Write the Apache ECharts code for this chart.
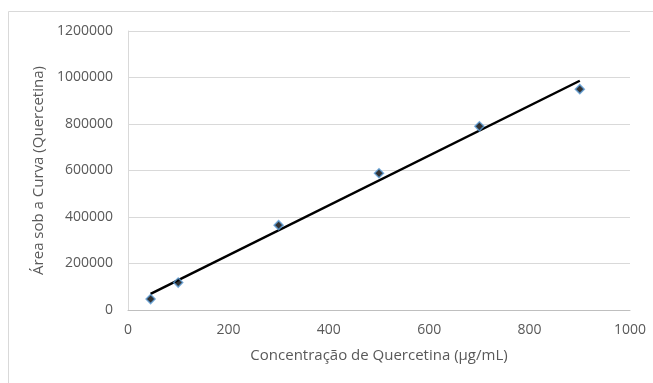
<!DOCTYPE html>
<html>
<head>
<meta charset="utf-8">
<script src="https://cdn.jsdelivr.net/npm/echarts@6/dist/echarts.min.js"></script>
<style>
  html, body { margin: 0; padding: 0; background: #fff; }
  #chart { width: 653px; height: 383px; }
</style>
</head>
<body>
<div id="chart"></div>
<script>
// Calibration points: concentration (µg/mL) vs. peak area
const concentracao = [45, 100, 300, 500, 700, 900];
const area = [47000, 118000, 365000, 588000, 790000, 950000];

// Linear trend line endpoints
const trendX = [45, 900];
const trendY = [69000, 986000];

const xTicks = { min: 0, max: 1000, interval: 200 };
const yTicks = { min: 0, max: 1200000, interval: 200000 };

const labelColor = '#595959';
const fontFamily = '"Open Sans", "Noto Sans", sans-serif';
const plain = v => String(v);

const chart = echarts.init(document.getElementById('chart'), null, { renderer: 'canvas' });

chart.setOption({
  backgroundColor: '#ffffff',
  animation: false,
  graphic: [{
    type: 'rect',
    shape: { x: 8.5, y: 11.5, width: 700, height: 400 },
    style: { fill: 'none', stroke: '#d9d9d9', lineWidth: 1 },
    silent: true,
    z: -10
  }],
  grid: { left: 128, right: 23, top: 31, bottom: 73, containLabel: false },
  xAxis: {
    type: 'value',
    min: xTicks.min, max: xTicks.max, interval: xTicks.interval,
    name: 'Concentração de Quercetina (µg/mL)',
    nameLocation: 'middle',
    nameGap: 38,
    nameTextStyle: { color: labelColor, fontSize: 15, fontFamily },
    axisLine: { show: true, lineStyle: { color: '#bfbfbf', width: 1 } },
    axisTick: { show: false },
    splitLine: { show: false },
    axisLabel: { color: labelColor, fontSize: 14, fontFamily, margin: 13, formatter: plain }
  },
  yAxis: {
    type: 'value',
    min: yTicks.min, max: yTicks.max, interval: yTicks.interval,
    name: 'Área sob a Curva (Quercetina)',
    nameLocation: 'middle',
    nameGap: 72,
    nameTextStyle: { color: labelColor, fontSize: 15, fontFamily },
    axisLine: { show: true, lineStyle: { color: '#d9d9d9', width: 1 } },
    axisTick: { show: false },
    splitLine: { show: true, lineStyle: { color: '#d9d9d9', width: 1 } },
    axisLabel: { color: labelColor, fontSize: 14, fontFamily, margin: 15, formatter: plain }
  },
  series: [
    {
      name: 'Tendência',
      type: 'line',
      data: trendX.map((x, i) => [x, trendY[i]]),
      symbol: 'none',
      lineStyle: { color: '#000000', width: 2.5 },
      z: 2
    },
    {
      name: 'Área',
      type: 'scatter',
      data: concentracao.map((x, i) => [x, area[i]]),
      symbol: 'diamond',
      symbolSize: 9,
      itemStyle: { color: '#000000', borderColor: '#5b9bd5', borderWidth: 1.5 },
      z: 3
    }
  ]
});
</script>
</body>
</html>
